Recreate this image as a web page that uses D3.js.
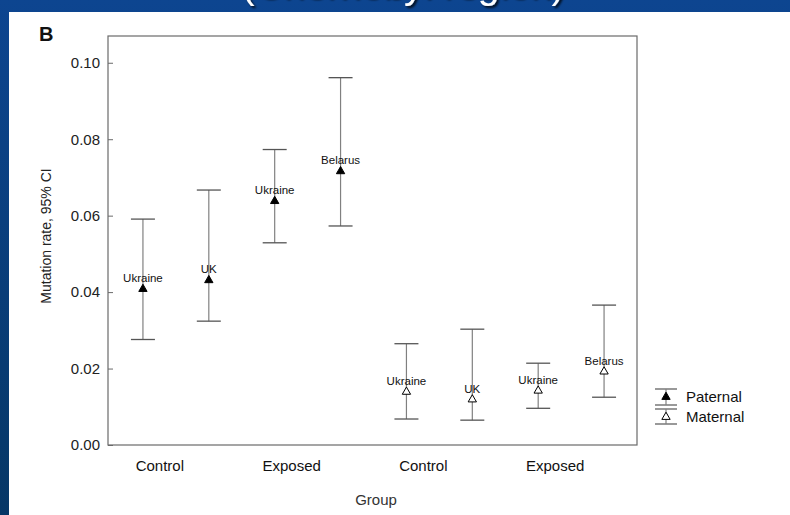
<!DOCTYPE html>
<html>
<head>
<meta charset="utf-8">
<script src="https://cdn.jsdelivr.net/npm/d3@7"></script>
<style>
  body { margin: 0; padding: 0; overflow: hidden; }
  svg { display: block; font-family: "Liberation Sans", Arial, sans-serif; }
</style>
</head>
<body>
<div id="graph"></div>
<script>
var width = 790;
var height = 515;

// data
var groups = ["Control", "Exposed", "Control", "Exposed"];
var sites = ["Ukraine", "UK", "Ukraine", "Belarus", "Ukraine", "UK", "Ukraine", "Belarus"];
var parent = ["Paternal", "Paternal", "Paternal", "Paternal", "Maternal", "Maternal", "Maternal", "Maternal"];
var rate = [0.0408, 0.0431, 0.0638, 0.0716, 0.0139, 0.0119, 0.0142, 0.0192];
var lower = [0.0276, 0.0324, 0.0529, 0.0573, 0.0068, 0.0065, 0.0096, 0.0125];
var upper = [0.0591, 0.0667, 0.0773, 0.0961, 0.0265, 0.0303, 0.0214, 0.0366];
var yTicks = [0, 0.02, 0.04, 0.06, 0.08, 0.10];

var frame = { left: 108, right: 637, top: 36, bottom: 445 };

var svg = d3.select("#graph").append("svg")
  .attr("width", width)
  .attr("height", height);

// slide background
var defs = svg.append("defs");
var grad = defs.append("linearGradient").attr("id", "bg")
  .attr("x1", 0).attr("y1", 0).attr("x2", 0).attr("y2", 1);
grad.append("stop").attr("offset", "0%").attr("stop-color", "#0d4590");
grad.append("stop").attr("offset", "100%").attr("stop-color", "#063766");
var shadow = defs.append("filter").attr("id", "shadow");
shadow.append("feDropShadow").attr("dx", 2).attr("dy", 2).attr("stdDeviation", 0.8)
  .attr("flood-color", "#000").attr("flood-opacity", 0.8);

svg.append("rect").attr("width", width).attr("height", height).attr("fill", "url(#bg)");

// slide subtitle, only its descenders show above the panel
svg.append("text")
  .attr("x", 403).attr("y", -2)
  .attr("text-anchor", "middle")
  .attr("font-size", "39px")
  .attr("fill", "white")
  .attr("filter", "url(#shadow)")
  .text("(Chernobyl region)");

// white figure panel
svg.append("rect")
  .attr("x", 9).attr("y", 12)
  .attr("width", width - 9).attr("height", height - 12)
  .attr("fill", "white");

svg.append("text")
  .attr("x", 39).attr("y", 41)
  .attr("font-size", "20px").attr("font-weight", "bold")
  .attr("fill", "#111")
  .text("B");

var keys = sites.map(function (d, i) { return i; });
var xScale = d3.scalePoint().domain(keys).range([110, frame.right]).padding(0.5);
var yScale = d3.scaleLinear().domain([0, 0.107]).range([frame.bottom, frame.top]);

// frame
svg.append("rect")
  .attr("x", frame.left).attr("y", frame.top)
  .attr("width", frame.right - frame.left)
  .attr("height", frame.bottom - frame.top)
  .attr("fill", "none")
  .attr("stroke", "#6a6a6a")
  .attr("stroke-width", 1.2);

// y axis, ticks pointing inward
var yAxis = svg.append("g")
  .attr("transform", "translate(" + frame.left + ",0)")
  .call(d3.axisLeft(yScale)
    .tickValues(yTicks)
    .tickFormat(d3.format(".2f"))
    .tickSizeInner(-5)
    .tickSizeOuter(0)
    .tickPadding(8));
yAxis.select(".domain").remove();
yAxis.selectAll(".tick line").attr("stroke", "#6a6a6a");
yAxis.selectAll(".tick text")
  .attr("font-size", "15px")
  .attr("font-family", "Liberation Sans, Arial, sans-serif")
  .attr("fill", "#222");

svg.append("text")
  .attr("transform", "translate(51,236) rotate(-90)")
  .attr("text-anchor", "middle")
  .attr("font-size", "14px")
  .attr("fill", "#222")
  .text("Mutation rate, 95% CI");

// group labels sit a bit left of each pair
groups.forEach(function (g, i) {
  var mid = (xScale(2 * i) + xScale(2 * i + 1)) / 2 - 16;
  svg.append("text")
    .attr("x", mid).attr("y", 471)
    .attr("text-anchor", "middle")
    .attr("font-size", "15px")
    .attr("fill", "#111")
    .text(g);
});

svg.append("text")
  .attr("x", 376).attr("y", 505)
  .attr("text-anchor", "middle")
  .attr("font-size", "15px")
  .attr("fill", "#333")
  .text("Group");

// error bars
var capHalf = 12;
var bars = svg.append("g").selectAll("g")
  .data(keys)
  .enter().append("g");

bars.append("line")
  .attr("x1", function (i) { return xScale(i); })
  .attr("x2", function (i) { return xScale(i); })
  .attr("y1", function (i) { return yScale(upper[i]); })
  .attr("y2", function (i) { return yScale(lower[i]); })
  .attr("stroke", "#808080")
  .attr("stroke-width", 1.2);

bars.append("line")
  .attr("x1", function (i) { return xScale(i) - capHalf; })
  .attr("x2", function (i) { return xScale(i) + capHalf; })
  .attr("y1", function (i) { return yScale(upper[i]); })
  .attr("y2", function (i) { return yScale(upper[i]); })
  .attr("stroke", "#555")
  .attr("stroke-width", 1.3);

bars.append("line")
  .attr("x1", function (i) { return xScale(i) - capHalf; })
  .attr("x2", function (i) { return xScale(i) + capHalf; })
  .attr("y1", function (i) { return yScale(lower[i]); })
  .attr("y2", function (i) { return yScale(lower[i]); })
  .attr("stroke", "#555")
  .attr("stroke-width", 1.3);

bars.append("text")
  .attr("x", function (i) { return xScale(i); })
  .attr("y", function (i) { return yScale(rate[i]) - 7; })
  .attr("text-anchor", "middle")
  .attr("font-size", "11.5px")
  .attr("fill", "#111")
  .text(function (i) { return sites[i]; });

var tri = d3.symbol().type(d3.symbolTriangle).size(30);
bars.append("path")
  .attr("d", tri)
  .attr("transform", function (i) {
    return "translate(" + xScale(i) + "," + yScale(rate[i]) + ")";
  })
  .attr("fill", function (i) { return parent[i] == "Paternal" ? "black" : "white"; })
  .attr("stroke", "black")
  .attr("stroke-width", 1);

// legend
var lg = svg.append("g").attr("transform", "translate(666,0)");
[389, 405, 409, 424].forEach(function (y) {
  lg.append("line")
    .attr("x1", -11).attr("x2", 11)
    .attr("y1", y).attr("y2", y)
    .attr("stroke", "#555").attr("stroke-width", 1.2);
});
lg.append("line").attr("x1", 0).attr("x2", 0).attr("y1", 389).attr("y2", 405)
  .attr("stroke", "#808080").attr("stroke-width", 1.2);
lg.append("line").attr("x1", 0).attr("x2", 0).attr("y1", 409).attr("y2", 424)
  .attr("stroke", "#808080").attr("stroke-width", 1.2);
lg.append("path").attr("d", tri).attr("transform", "translate(0,397)")
  .attr("fill", "black").attr("stroke", "black");
lg.append("path").attr("d", tri).attr("transform", "translate(0,417)")
  .attr("fill", "white").attr("stroke", "black");
lg.append("text").attr("x", 20).attr("y", 402).attr("font-size", "15px").attr("fill", "#111").text("Paternal");
lg.append("text").attr("x", 20).attr("y", 422).attr("font-size", "15px").attr("fill", "#111").text("Maternal");
</script>
</body>
</html>
